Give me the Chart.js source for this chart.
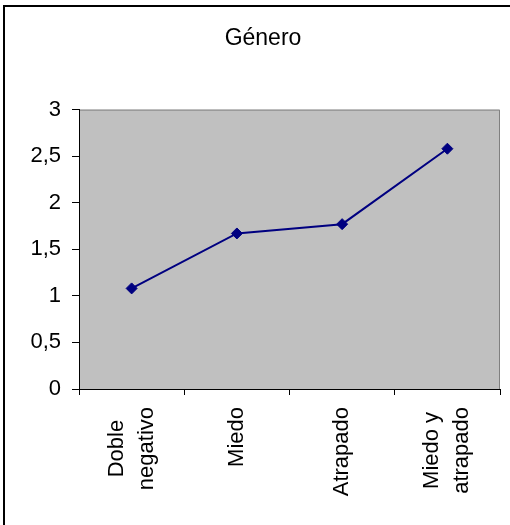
<!DOCTYPE html>
<html>
<head>
<meta charset="utf-8">
<script src="https://cdn.jsdelivr.net/npm/chart.js@4/dist/chart.umd.min.js"></script>
<style>
  html, body { margin: 0; padding: 0; background: #ffffff; }
  #wrap { position: relative; width: 510px; height: 525px; }
  canvas { display: block; }
</style>
</head>
<body>
<div id="wrap"><canvas id="chart" width="510" height="525"></canvas></div>
<script>
// Gender chart: mean score per condition
const categories = [["Doble", "negativo"], "Miedo", "Atrapado", ["Miedo y", "atrapado"]];
const values = [1.08, 1.67, 1.77, 2.58];
const yTicks = [0, 0.5, 1, 1.5, 2, 2.5, 3];
const chartTitle = "Género";

const FONT = "'Liberation Sans', Arial, sans-serif";
const LABEL_SIZE = 22;
const LABEL_LINE = 30;

// Grey plot area, grey top/right frame and the outer frame lines
const frame = {
  id: 'frame',
  beforeDraw(chart) {
    const { ctx, chartArea: a } = chart;
    ctx.save();
    ctx.fillStyle = '#ffffff';
    ctx.fillRect(0, 0, chart.width, chart.height);
    ctx.fillStyle = '#c0c0c0';
    ctx.fillRect(a.left, a.top, a.right - a.left, a.bottom - a.top);
    ctx.strokeStyle = '#808080';
    ctx.lineWidth = 1;
    ctx.beginPath();
    ctx.moveTo(a.left, a.top + 0.5);
    ctx.lineTo(a.right - 0.5, a.top + 0.5);
    ctx.lineTo(a.right - 0.5, a.bottom);
    ctx.stroke();
    ctx.fillStyle = '#000000';
    ctx.fillRect(3, 5, 2, chart.height - 5);
    ctx.fillRect(3, 5, chart.width - 3, 2);
    ctx.restore();
  }
};

// Vertical category labels, reading upwards, lines centred on each other
const verticalLabels = {
  id: 'verticalLabels',
  afterDraw(chart) {
    const { ctx } = chart;
    const xs = chart.scales.x;
    const top = xs.top + 18;
    ctx.save();
    ctx.fillStyle = '#000000';
    ctx.font = LABEL_SIZE + 'px ' + FONT;
    ctx.textBaseline = 'middle';
    ctx.textAlign = 'center';
    chart.data.labels.forEach((lab, i) => {
      const lines = Array.isArray(lab) ? lab : [lab];
      const maxW = Math.max(...lines.map(l => ctx.measureText(l).width));
      const x = xs.getPixelForValue(i);
      ctx.save();
      ctx.translate(x, top);
      ctx.rotate(-Math.PI / 2);
      lines.forEach((line, j) => {
        const off = (j - (lines.length - 1) / 2) * LABEL_LINE;
        ctx.fillText(line, -maxW / 2, off);
      });
      ctx.restore();
    });
    ctx.restore();
  }
};

new Chart(document.getElementById('chart'), {
  type: 'line',
  data: {
    labels: categories,
    datasets: [{
      data: values,
      borderColor: '#000080',
      backgroundColor: '#000080',
      borderWidth: 2,
      pointStyle: 'rectRot',
      pointRadius: 5.5,
      pointBorderWidth: 1,
      pointBorderColor: '#000080',
      pointBackgroundColor: '#000080',
      tension: 0,
      fill: false
    }]
  },
  options: {
    responsive: false,
    animation: false,
    devicePixelRatio: 1,
    layout: { padding: { left: 26, right: 10, top: 0, bottom: 0 } },
    plugins: {
      legend: { display: false },
      tooltip: { enabled: false },
      title: {
        display: true,
        text: chartTitle,
        color: '#000000',
        font: { family: FONT, size: 23, weight: 'normal', lineHeight: 1.2 },
        padding: { top: 25, bottom: 57 }
      }
    },
    scales: {
      x: {
        type: 'category',
        offset: true,
        afterFit(scale) { scale.height = 136; },
        grid: {
          offset: true,
          drawOnChartArea: false,
          drawTicks: true,
          tickLength: 6,
          color: '#000000',
          lineWidth: 1
        },
        border: { display: true, color: '#000000', width: 1 },
        ticks: { display: false, autoSkip: false }
      },
      y: {
        min: 0,
        max: 3,
        afterFit(scale) { scale.width = 53; },
        afterBuildTicks(scale) { scale.ticks = yTicks.map(v => ({ value: v })); },
        grid: {
          drawOnChartArea: false,
          drawTicks: true,
          tickLength: 7,
          color: '#000000',
          lineWidth: 1
        },
        border: { display: true, color: '#000000', width: 1 },
        ticks: {
          color: '#000000',
          font: { family: FONT, size: 22 },
          padding: 11,
          callback: v => String(v).replace('.', ',')
        }
      }
    }
  },
  plugins: [frame, verticalLabels]
});
</script>
</body>
</html>
